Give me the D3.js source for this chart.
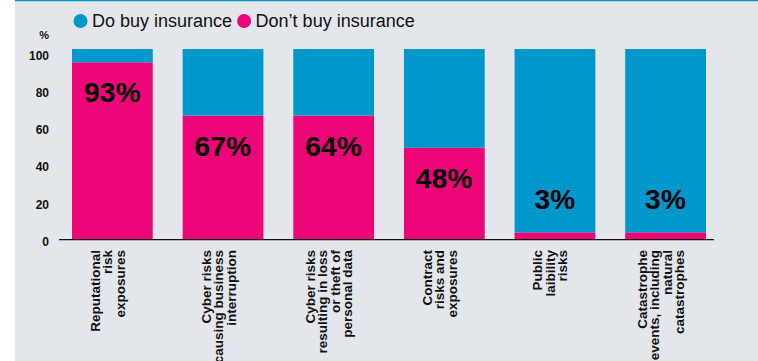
<!doctype html>
<html>
  <head>
    <meta charset="utf-8">
    <title>Do / don't buy insurance</title>
    <script src="https://cdnjs.cloudflare.com/ajax/libs/d3/7.8.5/d3.min.js"></script>
    <style>
      body { margin: 0; background: #fff; font-family: "Liberation Sans", Arial, Helvetica, sans-serif; }
      svg { display: block; }
    </style>
  </head>
  <body>
    <div id="chart"></div>
    <script>
    // data
    const categories = [
      ["Reputational", "risk", "exposures"],
      ["Cyber risks", "causing business", "interruption"],
      ["Cyber risks", "resulting in loss", "or theft of", "personal data"],
      ["Contract", "risks and", "exposures"],
      ["Public", "laibility", "risks"],
      ["Catastrophe", "events, including", "natural", "catastrophes"]
    ];
    const dontBuy = [93, 65, 65, 48, 3.5, 3.5];   // pink part as drawn
    const doBuy = [7, 35, 35, 52, 96.5, 96.5];    // blue part as drawn
    const labelPct = [93, 67, 64, 48, 3, 3];      // printed labels
    const tickValues = [0, 20, 40, 60, 80, 100];
    const seriesNames = ["Do buy insurance", "Don\u2019t buy insurance"];

    const blue = "#0097cc", pink = "#ec0677";
    const W = 758, H = 361;

    const svg = d3.select("#chart").append("svg")
      .attr("width", W).attr("height", H);

    // panel background + top rule
    svg.append("rect").attr("x", 15).attr("y", 0).attr("width", W - 15).attr("height", H)
      .attr("fill", "#e3e7ec");
    svg.append("line").attr("x1", 15).attr("x2", W).attr("y1", 0.6).attr("y2", 0.6)
      .attr("stroke", blue).attr("stroke-width", 1.4);

    const idx = d3.range(categories.length);

    const x = d3.scaleBand().domain(idx).range([72, 706])
      .paddingInner(0.27).paddingOuter(0);
    const y = d3.scaleLinear().domain([0, 100]).range([239, 49]);
    // tick labels sit on their own slightly shifted scale in the original
    const yTick = d3.scaleLinear().domain([0, 100]).range([241.5, 55.5]);

    // stacked bars
    const stack = d3.stack().keys(["dont", "do"])(idx.map(i => ({ dont: dontBuy[i], do: doBuy[i] })));
    const colors = { dont: pink, do: blue };

    svg.append("g").selectAll("g")
      .data(stack)
      .join("g")
      .attr("fill", s => colors[s.key])
      .selectAll("rect")
      .data(s => s)
      .join("rect")
      .attr("x", (d, i) => x(i))
      .attr("y", d => y(d[1]))
      .attr("width", x.bandwidth())
      .attr("height", d => y(d[0]) - y(d[1]));

    // y axis labels
    const yAxis = svg.append("g")
      .attr("transform", "translate(49,0)")
      .call(d3.axisLeft(yTick).tickValues(tickValues).tickSize(0).tickPadding(0));
    yAxis.select(".domain").remove();
    yAxis.selectAll("text")
      .attr("font-family", "Liberation Sans, Arial, sans-serif")
      .attr("font-size", 12).attr("font-weight", 700).attr("fill", "#111");

    svg.append("text").attr("x", 49).attr("y", 39).attr("text-anchor", "end")
      .attr("font-size", 11).attr("font-weight", 700).attr("fill", "#111").text("%");

    // baseline
    svg.append("line").attr("x1", 59).attr("x2", 714).attr("y1", 239.6).attr("y2", 239.6)
      .attr("stroke", "#111").attr("stroke-width", 1.4);

    // value labels
    svg.append("g").selectAll("text")
      .data(idx)
      .join("text")
      .attr("x", i => x(i) + x.bandwidth() / 2)
      .attr("y", i => Math.min(y(dontBuy[i]) + 40, y(0) - 30))
      .attr("text-anchor", "middle")
      .attr("font-size", 28).attr("font-weight", 700).attr("fill", "#000")
      .attr("letter-spacing", 0.3)
      .text(i => labelPct[i] + "%");

    // category labels, rotated
    const lineGap = 12.5;
    const cat = svg.append("g").selectAll("text")
      .data(idx)
      .join("text")
      .attr("transform", i => `translate(${x(i) + x.bandwidth() / 2},250) rotate(-90)`)
      .attr("text-anchor", "end")
      .attr("font-size", 13.5).attr("font-weight", 700).attr("fill", "#111");
    cat.selectAll("tspan")
      .data(i => categories[i].map((t, k) => ({ t, k, n: categories[i].length })))
      .join("tspan")
      .attr("x", 0)
      .attr("y", d => (d.k - (d.n - 1) / 2) * lineGap)
      .text(d => d.t);

    // legend
    const legend = svg.append("g").attr("transform", "translate(80.5,21)");
    let lx = 0;
    seriesNames.forEach((name, k) => {
      legend.append("circle").attr("cx", lx).attr("cy", 0).attr("r", 7)
        .attr("fill", k === 0 ? blue : pink);
      const t = legend.append("text").attr("x", lx + 11.5).attr("y", 6.3)
        .attr("font-size", 18).attr("fill", "#111").text(name);
      lx += 11.5 + t.node().getComputedTextLength() + 12;
    });
    </script>
  </body>
</html>
